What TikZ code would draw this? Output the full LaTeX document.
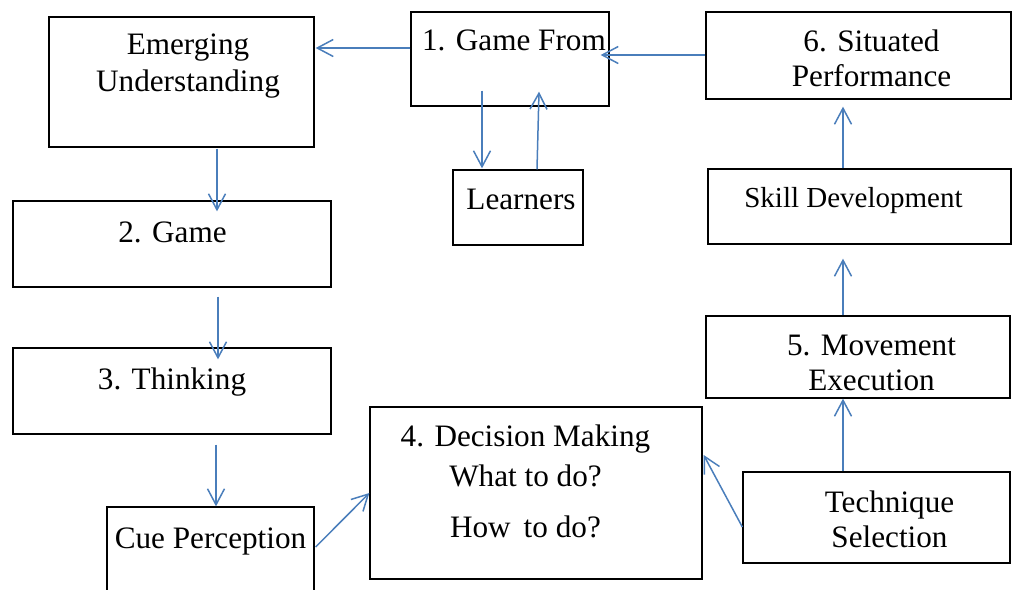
\documentclass[tikz,border=0pt]{standalone}
\usepackage{fontspec}
\setmainfont{Liberation Serif}
\usetikzlibrary{arrows.meta,fit,calc}
\definecolor{arrowblue}{HTML}{4A7EBB}
\begin{document}
\begin{tikzpicture}[x=0.5pt,y=-0.5pt,
    box/.style={draw=black, line width=0.65pt, inner sep=0pt},
    txt/.style={align=center, inner sep=0pt, font=\fontsize{15.6}{17.5}\selectfont},
    arr/.style={draw=arrowblue, line width=0.75pt, -{Straight Barb[length=8pt,width=8.5pt,line width=0.75pt]}}]
      \useasboundingbox (0,0) rectangle (1014,590);
      % boxes
      \node[box, fit={(49,17) (314,147)}] (emerg) {};
      \node[box, fit={(411,12) (609,106)}] (gamefrom) {};
      \node[box, fit={(706,12) (1011,99)}] (situated) {};
      \node[box, fit={(453,170) (583,245)}] (learners) {};
      \node[box, fit={(708,169) (1011,244)}] (skill) {};
      \node[box, fit={(13,201) (331,287)}] (game) {};
      \node[box, fit={(706,316) (1010,398)}] (movement) {};
      \node[box, fit={(13,348) (331,434)}] (thinking) {};
      \node[box, fit={(370,407) (702,579)}] (decision) {};
      \node[box, fit={(743,472) (1010,563)}] (technique) {};
      \node[box, fit={(107,507) (314,600)}] (cue) {};
      % texts
      \node[txt] (emergtxt) at (188,66) {Emerging\\[1pt]Understanding};
      \node[txt] (gamefromtxt) at (514,40) {1. Game From};
      \node[txt] (learnerstxt) at (521,199) {Learners};
      \node[txt] (gametxt) at (172.5,232) {2. Game};
      \node[txt] (thinkingtxt) at (172,382.5) {3. Thinking};
      \node[txt] (cuetxt) at (210.5,541) {Cue Perception};
      \node[txt] (situatedtxt) at (871.5,58.5) {6. Situated\\Performance};
      \node[txt, font=\fontsize{14.5}{17}\selectfont] (skilltxt) at (853.5,200.5) {Skill Development};
      \node[txt] (movementtxt) at (871.5,363) {5. Movement\\Execution};
      \node[txt] (techniquetxt) at (889.5,519) {Technique\\Selection};
      \node[txt] (decisiontxt) at (525.5,481.5) {4. Decision Making\\[2.5pt]What to do?\\[8pt]How\, to do?};
      % arrows
      \draw[arr] ($(gamefrom.west)+(0,-11)$) -- ($(emerg.east)+(1,-34)$);
      \draw[arr] ($(situated.west)+(0,-0.5)$) -- ($(gamefrom.east)+(-9,-4)$);
      \draw[arr] ($(gamefrom.south)+(-28,-16)$) -- ($(learners.north)+(-36,-1)$);
      \draw[arr] ($(learners.north)+(19,0)$) -- ($(gamefrom.south)+(29,-15)$);
      \draw[arr] ($(emerg.south)+(35.5,1)$) -- ($(game.north)+(45,11)$);
      \draw[arr] ($(game.south)+(46,9)$) -- ($(thinking.north)+(46,12)$);
      \draw[arr] ($(thinking.south)+(44,10)$) -- ($(cue.north)+(5.5,0)$);
      \draw[arr] ($(cue.east)+(1,-6.5)$) -- (decision.west);
      \draw[arr] ($(technique.west)+(0,9.5)$) -- ($(decision.east)+(1,-38)$);
      \draw[arr] ($(technique.north)+(-33.5,0)$) -- ($(movement.south)+(-15,0)$);
      \draw[arr] ($(movement.north)+(-15,0)$) -- ($(skill.south)+(-16.5,14)$);
      \draw[arr] ($(skill.north)+(-16.5,0)$) -- ($(situated.south)+(-15.5,7)$);
\end{tikzpicture}
\end{document}
